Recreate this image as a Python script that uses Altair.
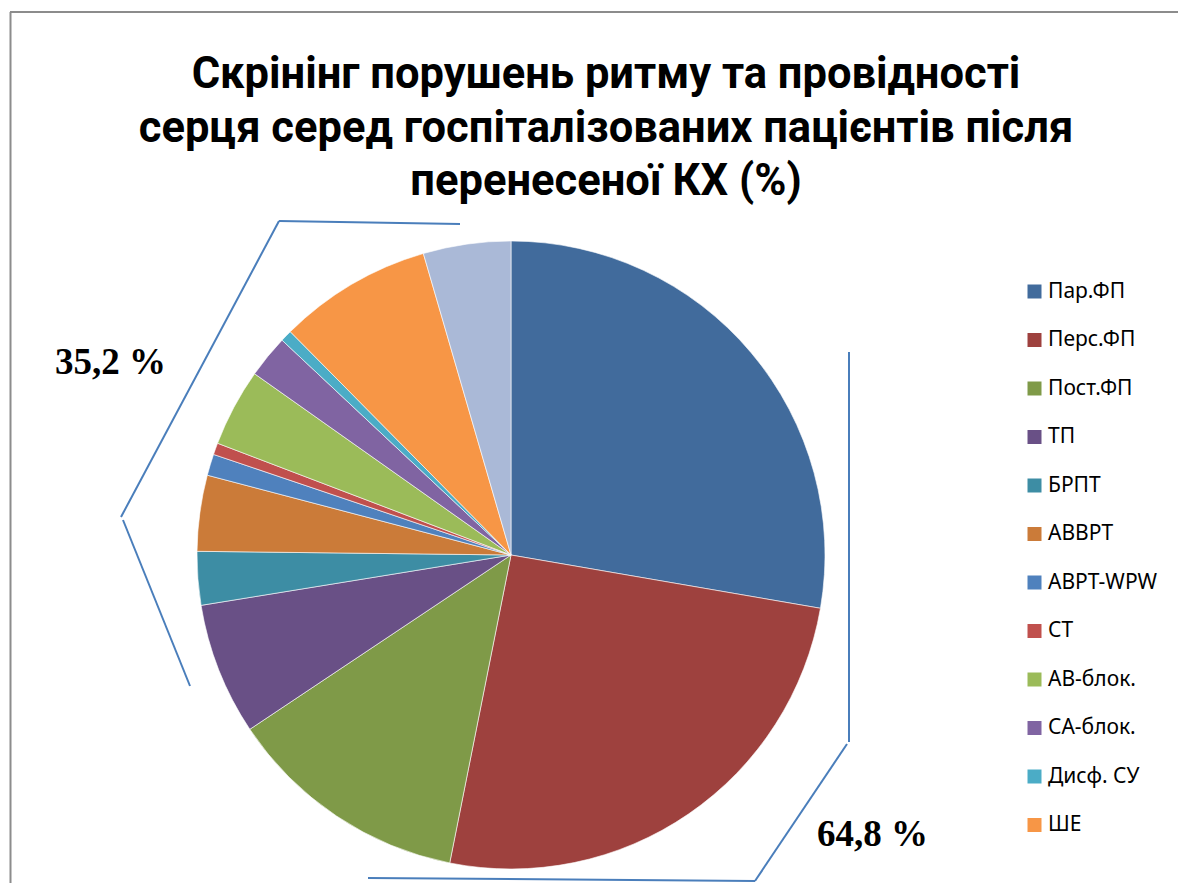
import altair as alt
import pandas as pd

# ---- data ----
categories = ["Пар.ФП", "Перс.ФП", "Пост.ФП", "ТП", "БРПТ", "АВВРТ", "АВРТ-WPW",
              "СТ", "АВ-блок.", "СА-блок.", "Дисф. СУ", "ШЕ", "Інші"]
values = [27.7, 25.4, 12.5, 6.8, 2.75, 3.9, 1.1, 0.6, 4.0, 2.2, 0.6, 7.9, 4.5]
colors = ["#416B9C", "#9E413E", "#7F9A48", "#695086", "#3D8DA4", "#CB7B39", "#4F81BD",
          "#C0504D", "#9BBB59", "#8064A2", "#4BACC6", "#F79646", "#AAB9D7"]
legend_categories = categories[:12]
title_lines = ["Скрінінг порушень ритму та провідності",
               "серця серед госпіталізованих пацієнтів після",
               "перенесеної КХ (%)"]
group_labels = ["35,2 %", "64,8 %"]

W, H = 1170, 875
df = pd.DataFrame({"cat": categories, "value": values, "order": list(range(len(categories)))})
dummy = pd.DataFrame({"a": [0]})

pie = alt.Chart(df).mark_arc(outerRadius=314, stroke="white", strokeWidth=0.6).encode(
    theta=alt.Theta("value:Q", stack=True),
    order=alt.Order("order:Q"),
    color=alt.Color(
        "cat:N",
        scale=alt.Scale(domain=categories, range=colors),
        legend=alt.Legend(
            values=legend_categories, title=None, orient="none",
            legendX=1016, legendY=273, symbolType="square", symbolSize=196,
            symbolStrokeWidth=0, labelFontSize=21, labelFont="Noto Sans",
            labelColor="#000000", rowPadding=26.5, labelOffset=3, padding=0,
        ),
    ),
    x=alt.value(503), y=alt.value(547),
)

layers = [pie]

# frame
frame_color = "#8C8C8C"
for (x1, y1, x2, y2) in [(2, 4, 1178, 4), (2.5, 4, 2.5, 883)]:
    layers.append(alt.Chart(dummy).mark_rule(color=frame_color, strokeWidth=2).encode(
        x=alt.value(x1), y=alt.value(y1), x2=alt.value(x2), y2=alt.value(y2)))

# brackets
br_color = "#4A7EBB"
segments = [
    (452, 216, 271, 213), (271, 213, 113, 509), (115, 512, 182, 678),
    (841, 344, 841, 734), (839, 736, 747, 873), (747, 873, 360, 870),
]
for (x1, y1, x2, y2) in segments:
    layers.append(alt.Chart(dummy).mark_rule(color=br_color, strokeWidth=2).encode(
        x=alt.value(x1), y=alt.value(y1), x2=alt.value(x2), y2=alt.value(y2)))

# title
for i, line in enumerate(title_lines):
    layers.append(alt.Chart(dummy).mark_text(
        font="Roboto", fontWeight="bold", fontSize=43.5, color="#000000",
        align="center", baseline="alphabetic").encode(
        text=alt.value(line), x=alt.value(598), y=alt.value(80 + i * 53.5)))

# group labels
for lab, (lx, ly) in zip(group_labels, [(47, 355), (809, 827)]):
    layers.append(alt.Chart(dummy).mark_text(
        font="Liberation Serif", fontWeight="bold", fontSize=37, color="#000000",
        align="left", baseline="middle").encode(
        text=alt.value(lab), x=alt.value(lx), y=alt.value(ly)))

chart = alt.layer(*layers).properties(
    width=W, height=H, autosize="none", padding=0
).configure_view(stroke=None)

chart.save("out.html", embed_options={"renderer": "svg", "actions": False})
